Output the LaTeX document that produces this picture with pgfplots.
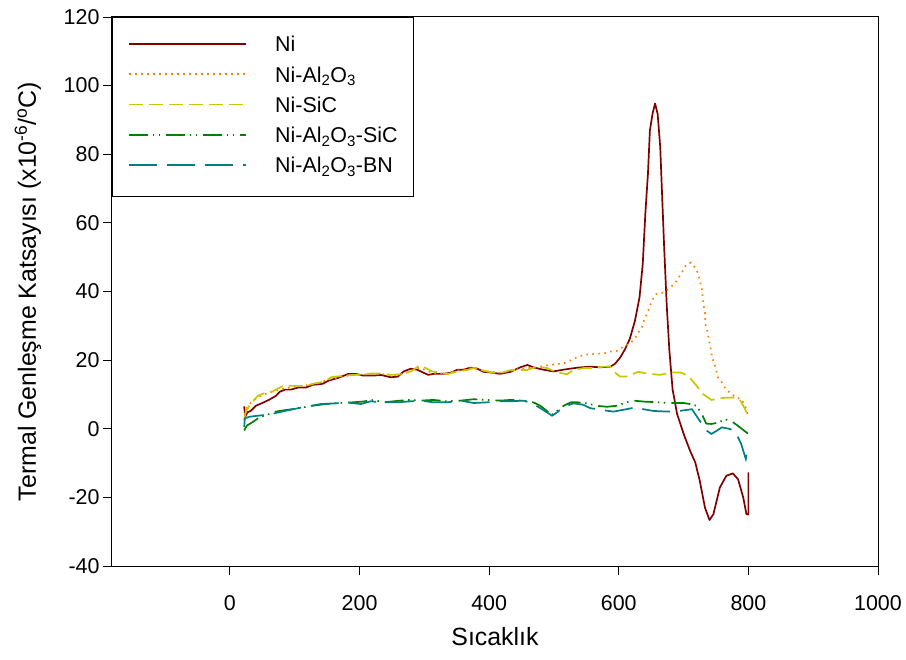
\documentclass[border=0pt]{standalone}
\usepackage{fontspec}
\setmainfont{Liberation Sans}
\usepackage{pgfplots}
\pgfplotsset{compat=1.18}
\definecolor{cNi}{RGB}{128,0,0}
\definecolor{cAl}{RGB}{255,128,0}
\definecolor{cSiC}{RGB}{200,200,0}
\definecolor{cAlSiC}{RGB}{0,128,0}
\definecolor{cBN}{RGB}{0,128,128}
\begin{document}
\begin{tikzpicture}
\path[use as bounding box] (-112bp,-94bp) rectangle (794bp,566bp);
\begin{axis}[
  at={(0,0)}, anchor=south west, scale only axis,
  width=766bp, height=549bp,
  xmin=-182, xmax=1000, ymin=-40, ymax=120,
  xtick={0,200,...,1000}, ytick={-40,-20,...,120},
  tick pos=left, tick align=outside, major tick length=9bp,
  tick style={black, line width=0.9bp},
  axis line style={line width=1bp},
  /pgf/number format/assume math mode=true,
  /pgf/number format/1000 sep={},
  tick label style={font=\fontsize{21.5}{25}\selectfont},
  xticklabel style={yshift=-17bp},
  xlabel={Sıcaklık},
  ylabel={Termal Genleşme Katsayısı (x10\textsuperscript{-6}/\textsuperscript{o}C)},
  label style={font=\fontsize{25}{29}\selectfont},
  xlabel style={at={(axis description cs:0.5,-0.129)}, anchor=center},
  ylabel style={at={(axis description cs:-0.1097,0.5)}, anchor=center},
  legend style={at={(0,1)}, anchor=north west, draw=black, line width=1bp, fill=white,
    inner xsep=16bp, inner ysep=19bp, row sep=10.25bp, column sep=28bp,
    font=\fontsize{21.5}{25}\selectfont,
    nodes={inner sep=0pt, text height=15.5bp, text depth=4.5bp}},
  legend cell align=left,
  legend image code/.code={\draw[#1] (0bp,2.5bp) -- (117bp,2.5bp);},
]
\addplot[draw=cNi, color=cNi, line width=1.7bp, line join=round] coordinates {
(22,6.5)(23.5,3.5)(27,4.8)(32,5.2)(40,6.7)(51,7.6)(60,8.4)(71,9.6)(77,10.8)(85,11.4)
(94,11.4)(105,12)(117,12)(128,12.8)(143,13.1)(152,14)(168,14.9)(183,16)(194,16)(205,15.5)
(222,15.5)(233,15.7)(248,15)(259,15.2)(268,16.7)(279,17.5)(289,17.2)(299,16.3)(306,15.7)(314,16)
(330,16)(340,16.3)(351,17.2)(360,17.2)(371,17.8)(382,17.5)(391,16.6)(402,16.4)(417,16)(433,16.6)
(448,17.9)(459,18.6)(468,17.9)(484,17.2)(499,16.7)(514,17.2)(536,17.8)(556,18.1)(571,17.9)(587,18.1)
(594,18.9)(602,20.7)(610,23.3)(617,26.2)(625,31.5)(632,38.3)(637,48)(641,62.7)(645,74.3)(648,86.9)
(652,91.7)(656,94.8)(660,91.7)(664,82)(667,67.4)(670,53)(674,36)(678,23)(683,11.5)(690,4.3)
(701,-2)(710,-6.4)(718,-9.8)(725,-15.2)(733,-23)(740,-26.6)(746,-24.9)(756,-17.1)(766,-13.7)(776,-13)
(784,-14.7)(792,-20)(797,-24.9)(800,-25)(800,-12.7)
};
\addlegendentry{Ni}
\addplot[draw=cAl, color=cAl, line width=1.7bp, dash pattern=on 1.6bp off 4.4bp] coordinates {
(22,2.5)(24,5.5)(32,7.5)(43,9.2)(52,10)(66,10.8)(84,11.8)(104,12.3)(130,13)(156,14.5)
(179,15.4)(204,15.8)(233,15.9)(259,15.6)(281,17)(292,17.8)(312,16.3)(335,16)(351,17)(376,17.8)
(392,16.8)(417,16.3)(448,17.5)(470,17.8)(487,18.4)(507,18.9)(517,19.2)(528,20.1)(537,21)(548,21.6)
(567,21.9)(576,21.9)(587,22.5)(597,22.7)(607,23.9)(616,24.7)(624,26.1)(630,28)(636,29.7)(639,31.7)
(644,33.6)(651,37.3)(658,39.3)(667,39.6)(678,40.9)(687,42.5)(693,44.3)(699,46.1)(704,47.8)(711,48.4)
(719,46.7)(723,44.9)(725,42.9)(728,41.2)(729,39.3)(731,35.8)(733,33.7)(734,30.3)(737,28.2)(739,26)
(741,24.4)(744,20.8)(748,18.7)(753,15)(759,13.5)(765,11.6)(774,10.1)(782,9.1)(790,8.5)(796,6)(800,3.5)
};
\addlegendentry{Ni-Al\textsubscript{2}O\textsubscript{3}}
\addplot[draw=cSiC, color=cSiC, line width=1.7bp, dash pattern=on 14bp off 6bp] coordinates {
(22,3)(25,5.2)(32,7.3)(43,9.6)(52,10.3)(66,10.9)(73,11.6)(84,12.7)(94,12.5)(104,12.5)
(117,12.5)(130,13.2)(140,13.5)(148,14)(156,15)(163,15.2)(179,15.5)(194,15.7)(204,15.9)(217,16.1)
(233,16.1)(248,15.7)(268,15.9)(281,16.9)(292,18.4)(302,17.7)(312,16.7)(325,16.4)(335,15.9)(351,16.7)
(366,17.1)(376,17.7)(392,16.9)(407,16.3)(420,16.4)(433,17.1)(448,17.1)(458,17.1)(474,18.1)(489,17.7)
(505,16.4)(520,15.9)(530,17.1)(546,17.7)(561,17.7)(576,18.1)(587,18.1)(594,16.4)(602,15.2)(612,15.2)
(630,16.6)(643,16.1)(664,15.7)(679,16.4)(695,16.4)(707,15.5)(718,13)(730,10.1)(743,8.4)(761,9)
(777,9.1)(787,8.4)(795,5.7)(800,3.3)
};
\addlegendentry{Ni-SiC}
\addplot[draw=cAlSiC, color=cAlSiC, line width=1.7bp, dash pattern=on 19bp off 4.5bp on 1.5bp off 4.5bp on 1.5bp off 6bp] coordinates {
(22,-0.5)(26,0.9)(38,2.3)(45,3.3)(58,4.1)(71,5)(84,5.4)(96,5.7)(112,6.2)(127,6.7)
(148,7.2)(168,7.5)(189,7.7)(204,7.9)(222,8.4)(237,7.7)(263,8.2)(279,8.4)(294,8.2)(314,8.4)
(335,8)(356,8.2)(376,8.6)(397,8.4)(417,8.2)(433,8.4)(453,8.2)(468,7.7)(479,6.7)(489,5.2)
(497,4.1)(505,5.2)(515,6.7)(526,7.7)(536,7.7)(551,7.4)(566,6.7)(582,6.4)(597,6.7)(612,7.7)
(622,8.2)(640,7.9)(661,7.7)(679,7.5)(700,7.5)(710,7.2)(720,6.7)(728,4.3)(735,1.5)(743,1.4)
(754,1.8)(764,2.8)(777,1.8)(787,0.4)(793,-0.5)(800,-1.5)
};
\addlegendentry{Ni-Al\textsubscript{2}O\textsubscript{3}-SiC}
\addplot[draw=cBN, color=cBN, line width=1.7bp, dash pattern=on 28bp off 10bp] coordinates {
(22,0.5)(23,3)(30,3.5)(43,3.8)(60,4.1)(80,5)(100,5.8)(117,6.4)(140,7.2)(163,7.4)
(179,7.7)(202,7.2)(217,8)(233,7.7)(259,7.7)(279,8)(295,8.2)(314,7.7)(335,7.7)(356,8.2)
(376,7.5)(397,7.7)(417,8)(433,8)(453,8.2)(468,7.2)(479,6)(489,4.8)(497,3.8)(505,4.8)
(515,6.4)(530,7.4)(545,7)(556,6)(576,5.4)(592,5)(612,5.7)(625,6.2)(638,5.7)(653,5.2)
(674,5)(694,5.2)(713,5.7)(725,2.3)(736,-0.6)(743,-1.5)(751,-0.6)(759,0.4)(770,0)(779,-0.6)
(784,-2.5)(789,-4.5)(796,-8.8)(800,-5)
};
\addlegendentry{Ni-Al\textsubscript{2}O\textsubscript{3}-BN}
\end{axis}
\end{tikzpicture}
\end{document}
